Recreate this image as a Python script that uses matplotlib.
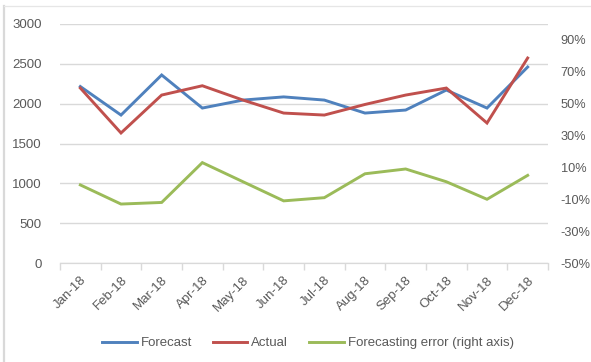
import matplotlib
matplotlib.use("Agg")
import matplotlib.pyplot as plt
from matplotlib.lines import Line2D
from matplotlib.ticker import FixedLocator, FuncFormatter

plt.rcParams['font.family'] = ['Liberation Sans', 'DejaVu Sans']

months = ["Jan-18", "Feb-18", "Mar-18", "Apr-18", "May-18", "Jun-18",
          "Jul-18", "Aug-18", "Sep-18", "Oct-18", "Nov-18", "Dec-18"]
forecast = [2215, 1857, 2360, 1945, 2045, 2085, 2045, 1882, 1920, 2171, 1945, 2460]
actual = [2196, 1632, 2108, 2225, 2045, 1882, 1857, 1990, 2108, 2196, 1757, 2573]
error_pct = [-1, -13, -12, 13, 1, -11, -9, 6, 9, 1, -10, 5]

left_ticks = [0, 500, 1000, 1500, 2000, 2500, 3000]
right_ticks = [-50, -30, -10, 10, 30, 50, 70, 90]

BLUE = "#4F81BD"
RED = "#C0504D"
GREEN = "#9BBB59"
GRID = "#D9D9D9"
TXT = "#595959"

fig = plt.figure(figsize=(5.91, 3.62), dpi=100)
ax = fig.add_axes([60/591, 1-263/362, 488/591, 239/362])
ax2 = ax.twinx()

x = list(range(len(months)))
ax.plot(x, forecast, color=BLUE, lw=2.1, solid_joinstyle='miter', zorder=3)
ax.plot(x, actual, color=RED, lw=2.1, solid_joinstyle='miter', zorder=3)
ax2.plot(x, error_pct, color=GREEN, lw=2.1, solid_joinstyle='miter', zorder=3)

ax.set_xlim(-0.5, len(months) - 0.5)
ax.set_ylim(0, 3000)
ax2.set_ylim(-50, 100)

ax.yaxis.set_major_locator(FixedLocator(left_ticks))
ax.grid(axis='y', color=GRID, lw=1)
ax.set_axisbelow(True)
ax.tick_params(axis='y', length=0, pad=13, labelsize=9.5, labelcolor=TXT)

ax2.yaxis.set_major_locator(FixedLocator(right_ticks))
ax2.yaxis.set_major_formatter(FuncFormatter(lambda v, p: f"{int(v)}%"))
ax2.tick_params(axis='y', length=0, pad=9, labelsize=9.2, labelcolor=TXT)

ax.set_xticks(x)
ax.set_xticklabels(months, rotation=45, ha='right', rotation_mode='anchor')
ax.tick_params(axis='x', which='major', length=0, pad=8, labelsize=9.5, labelcolor=TXT)
ax.set_xticks([i - 0.5 for i in range(len(months) + 1)], minor=True)
ax.tick_params(axis='x', which='minor', length=5, color=GRID, width=1)

for a in (ax, ax2):
    for s in ['top', 'left', 'right']:
        a.spines[s].set_visible(False)
    a.spines['bottom'].set_color(GRID)

# chart border remnants
fig.add_artist(Line2D([4/591, 4/591], [0, 1-6/362], transform=fig.transFigure, color=GRID, lw=1.6))
fig.add_artist(Line2D([4/591, 1], [1-6/362, 1-6/362], transform=fig.transFigure, color="#E6E6E6", lw=0.9))

handles = [Line2D([], [], color=BLUE, lw=2.1),
           Line2D([], [], color=RED, lw=2.1),
           Line2D([], [], color=GREEN, lw=2.1)]
fig.legend(handles, ["Forecast", "Actual", "Forecasting error (right axis)"],
           loc='center', bbox_to_anchor=(308/591, 1-343/362), ncol=3, frameon=False,
           fontsize=9.5, labelcolor=TXT, handlelength=2.6, handletextpad=0.3,
           columnspacing=1.6)

fig.savefig("out.png", dpi=100)
